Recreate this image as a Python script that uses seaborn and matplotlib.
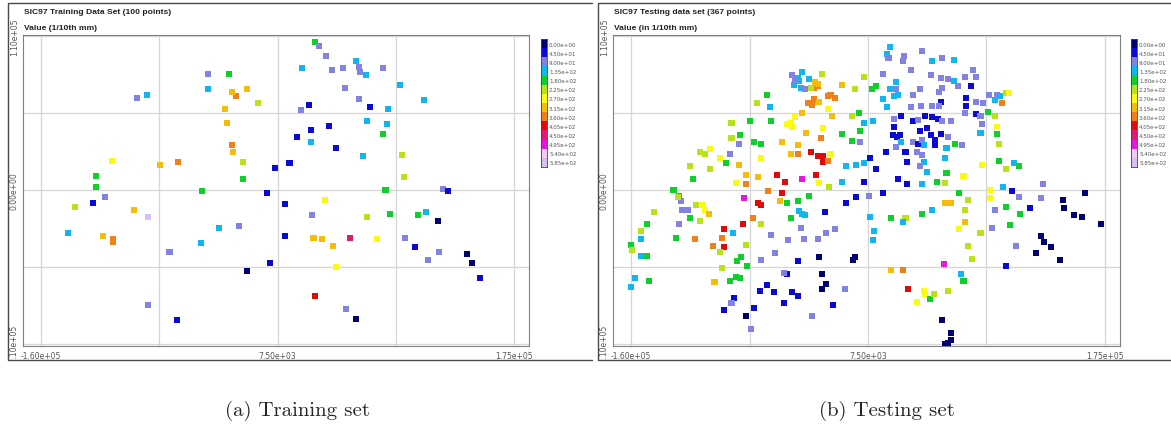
import numpy as np
import pandas as pd
import matplotlib
matplotlib.use("Agg")
import matplotlib.pyplot as plt
from matplotlib.colors import ListedColormap
from matplotlib.patches import Rectangle
from matplotlib.lines import Line2D
import seaborn as sns

# legend classes (value in 1/10th mm)
BREAKS = [0, 45, 90, 135, 180, 225, 270, 315, 360, 405, 450, 495, 540, 585]
COLORS = ["#00006e", "#0a0ad2", "#8282e2", "#12b6ee", "#10cf2a", "#b8e21c",
          "#fafa14", "#f6bc0a", "#f0801a", "#e00a0a", "#e01a70", "#e018e0",
          "#f8c8f0", "#d8bef6"]

# training set: easting / northing in km, class index of the legend
TRAIN_X = [34, 37, 42, 25, 46, 54, 63, 65, 66, 70, 82, 55, 94, 111, 65, 30, 73, 86, 24, 71,
           85, 44, 31, 82, 21, 31, 49, 68, 96, 97, 16, 6, 0, 13, 84, 41, 32, 87, 71, 107,
           113, 125, 128, 121, 13, 33, 39, 47, 59, 78, 98, 105, 122, 114, 142, 145, 151, 2, 49, -14,
           34, 56, 63, -64, -84, -69, -47, -34, -20, -46, -17, -17, -24, -25, -28, -30, -6, -14, -22, -25,
           -27, -42, -42, -85, -92, -76, -63, -110, -121, -121, -115, -123, -136, -94, -84, -141, -116, -109, -109]
TRAIN_Y = [106, 103, 96, 87, 86, 87, 92, 88, 84, 82, 87, 73, 75, 64, 65, 61, 59, 58, 57, 49,
           47, 46, 43, 40, 38, 34, 30, 24, 25, 9, 19, 16, -2, -10, 0, -7, -18, -17, -19, -18,
           -16, 1, -1, -22, -33, -34, -35, -40, -34, -35, -34, -41, -44, -50, -46, -52, -63, -52, -55, -58,
           -76, -85, -92, -93, -82, -44, -38, -27, -26, -1, 8, 20, 27, 32, 48, 58, 62, 72, 67, 70,
           83, 83, 72, 68, 66, 18, 20, 21, 10, 2, -5, -9, -12, -14, -19, -31, -33, -35, -37]
TRAIN_LEVEL = [4, 2, 2, 3, 2, 2, 3, 2, 2, 3, 2, 2, 3, 3, 2, 1, 1, 3, 2, 3,
               3, 1, 1, 4, 1, 3, 1, 3, 5, 5, 1, 1, 1, 1, 4, 6, 2, 4, 5, 4,
               3, 2, 1, 0, 1, 7, 7, 7, 10, 6, 2, 1, 2, 2, 0, 0, 1, 1, 6, 0,
               9, 2, 0, 1, 2, 2, 3, 3, 2, 4, 4, 5, 7, 8, 7, 7, 5, 7, 8, 7,
               4, 2, 3, 3, 2, 7, 8, 6, 4, 4, 2, 1, 5, 7, 13, 3, 7, 8, 8]

# testing set
TEST_X = [23, 21, 22, 33, 32, 46, 53, 60, 68, 38, 52, 59, 64, 68, 82, 84, 76, 71, 80, 18,
          27, 27, 23, 18, 26, 29, 21, 39, 44, 60, 58, 59, 58, 53, 45, 38, 77, 77, 84, 89,
          93, 97, 99, 101, 102, 105, 107, 92, 97, 84, 87, 76, 88, 87, 99, 99, 100, 66, 64, 69,
          74, 63, 31, 26, 26, 39, 43, 48, 53, 57, 60, 49, 44, 52, 55, 59, 25, 28, 30, 31,
          39, 43, 46, 47, 55, 27, 34, 42, 46, 47, 44, 49, 35, 20, 9, 13, -1, 5, 5, -11,
          29, 35, 46, 56, 62, 63, 62, 75, 88, 100, 111, 114, 105, 103, 94, 94, 109, 114, 97, 105,
          115, 122, 130, 131, 108, 95, 87, 112, 105, 126, 130, 132, 137, 143, 145, 146, 153, 159, 161, 172,
          78, 72, 66, 62, 76, 76, 72, 78, 81, 73, 75, 61, 64, 53, 46, 34, 32, 24, 9, 12,
          11, 24, 32, 36, 47, 48, 42, 51, 54, 60, 66, 66, 64, 62, -2, -3, -27, -25, -22, -25,
          -42, -50, -52, -46, -42, -52, -59, -64, -69, -73, -79, -87, -89, -94, -75, -32, -17, -9, -1, -8,
          8, 18, -23, -16, -22, -28, -40, -38, -49, -61, -58, -68, -41, -39, -37, -47, -42, -34, -50, -55,
          -63, -68, -70, -80, -74, -68, -81, -88, -94, -94, -96, -102, -97, -79, -82, -85, -78, -96, -86, -83,
          -90, -101, -115, -128, -126, -118, -111, -114, -109, -108, -105, -124, -120, -125, -126, -127, -130, -144, -149, -153,
          -153, -160, -159, -153, -149, -157, -160, -147, -118, -116, -111, -108, -104, -104, -97, -93, -90, -89, -83, -89,
          -84, -86, -84, -79, -79, -76, -73, -68, -68, -71, -64, -62, -61, -70, -57, -51, -53, -53, -47, -42,
          -42, -50, -47, -46, -44, -39, -36, -24, -26, -33, -28, -24, -24, -21, -19, -29, -39, -27, -20, -11,
          2, -4, 2, -8, -4, 1, 5, 11, -18, -21, -28, -32, -35, -31, -27, -21, -19, -16, -31, -28,
          -28, -33, -25, -30, -39, -42, -41, -45, -46, -44, -40, -34, -37, -11, -2, 5, 10, 13]
TEST_Y = [102, 97, 94, 96, 92, 99, 92, 94, 93, 86, 82, 80, 79, 78, 86, 81, 81, 74, 74, 83,
          77, 72, 72, 65, 67, 68, 59, 68, 72, 73, 70, 63, 60, 60, 60, 59, 66, 60, 63, 62,
          68, 64, 68, 67, 62, 69, 69, 56, 53, 54, 53, 55, 47, 41, 45, 40, 33, 49, 38, 33,
          32, 30, 53, 51, 45, 49, 50, 53, 52, 51, 49, 44, 42, 39, 36, 40, 39, 38, 39, 34,
          34, 33, 36, 32, 32, 31, 27, 27, 25, 20, 17, 13, 20, 27, 23, 15, 18, 19, 6, 6,
          8, 4, 4, 6, 5, 12, 23, 10, 18, 21, 19, 17, 15, 2, 0, -6, -1, -5, -14, -12,
          -17, -13, -6, 4, -25, -27, -31, -40, -54, -45, -33, -37, -41, -50, -7, -13, -18, -19, -2, -24,
          -7, -2, -9, -9, -14, -23, -28, -40, -49, -60, -65, -53, -72, -14, -17, -20, -23, -20, -19, -29,
          -36, -57, -57, -71, -72, -74, -80, -78, -74, -93, -102, -107, -109, -110, -48, -50, -48, -60, -67, -71,
          -51, -60, -59, -73, -76, -81, -73, -68, -72, -84, -90, -77, -81, -86, -99, -90, -82, -71, -5, -9,
          -4, -2, -16, -28, -31, -35, -27, -35, -36, -32, -45, -50, -15, -17, -18, -20, -8, -4, -9, -8,
          -1, -11, -9, -6, -20, -24, -24, -31, -28, -41, -34, -40, -44, -39, -48, -51, -54, -56, -62, -63,
          -65, -66, -35, -34, -24, -20, -22, -11, -11, -14, -17, -14, -14, -8, -4, -5, 0, -16, -24, -29,
          -35, -39, -43, -47, -47, -63, -69, -65, 17, 8, 27, 26, 29, 15, 23, 19, 26, 37, 39, 48,
          33, 5, 18, 11, 4, 49, 34, 33, 23, 62, 68, 59, 49, 9, 11, 6, -2, 34, 26, 26,
          32, 47, 48, 45, 52, 55, 41, 44, 37, 27, 24, 24, 20, 21, 26, 11, 8, 5, 2, 40,
          42, 35, 34, 17, 53, 55, 48, 49, 53, 58, 63, 61, 62, 65, 63, 67, 68, 66, 73, 74,
          76, 73, 83, 77, 84, 80, 78, 75, 82, 78, 73, 79, 72, 75, 72, 81, 72, 74]
TEST_LEVEL = [3, 3, 2, 2, 2, 2, 3, 2, 3, 2, 2, 2, 2, 3, 2, 2, 2, 2, 1, 2,
              3, 2, 3, 3, 3, 3, 3, 2, 2, 2, 2, 1, 2, 2, 2, 2, 1, 1, 2, 2,
              2, 3, 2, 3, 8, 5, 6, 4, 5, 1, 2, 2, 2, 3, 6, 4, 5, 2, 2, 4,
              2, 3, 1, 2, 1, 1, 2, 1, 1, 1, 2, 1, 1, 1, 1, 1, 1, 1, 1, 3,
              2, 1, 2, 3, 1, 2, 1, 2, 2, 3, 2, 3, 1, 1, 1, 1, 3, 3, 1, 3,
              1, 1, 3, 4, 5, 4, 3, 6, 6, 4, 3, 4, 5, 3, 6, 6, 1, 2, 2, 4,
              4, 1, 2, 2, 4, 2, 5, 2, 1, 0, 0, 0, 0, 0, 0, 0, 0, 0, 0, 0,
              5, 4, 7, 7, 5, 7, 6, 5, 5, 3, 4, 11, 5, 3, 4, 5, 3, 4, 3, 3,
              3, 7, 8, 9, 6, 6, 6, 4, 5, 0, 0, 0, 0, 0, 0, 0, 0, 0, 0, 0,
              1, 1, 2, 1, 1, 1, 1, 1, 1, 1, 0, 1, 2, 1, 2, 2, 1, 2, 1, 1,
              2, 1, 1, 2, 2, 2, 2, 2, 2, 2, 2, 2, 3, 3, 3, 4, 4, 4, 4, 7,
              8, 9, 9, 11, 8, 5, 9, 3, 9, 9, 8, 8, 5, 5, 4, 4, 4, 5, 4, 4,
              4, 7, 8, 4, 2, 4, 5, 5, 6, 6, 7, 2, 2, 2, 4, 5, 4, 5, 4, 5,
              3, 4, 5, 3, 4, 3, 3, 4, 5, 4, 5, 5, 6, 5, 6, 4, 2, 5, 4, 5,
              2, 6, 7, 7, 8, 4, 4, 4, 6, 5, 4, 3, 4, 7, 9, 9, 9, 7, 7, 8,
              7, 6, 6, 6, 6, 7, 7, 6, 8, 9, 9, 9, 9, 8, 6, 9, 11, 6, 5, 4,
              4, 4, 2, 3, 5, 4, 3, 3, 7, 6, 7, 8, 8, 8, 7, 8, 8, 8, 8, 8,
              7, 5, 5, 7, 3, 3, 3, 3, 2, 2, 3, 3, 2, 7, 5, 5, 4, 4]

TITLES = ["SIC97 Training Data Set (100 points)", "SIC97 Testing data set (367 points)"]
SUBTITLES = ["Value (1/10th mm)", "Value (in 1/10th mm)"]
CAPTIONS = ["(a) Training set", "(b) Testing set"]

X_TICKS = [-160000, 7500, 175000]
Y_TICKS = [-110000, 0, 110000]

W, H = 1171, 427
sns.set_style("white")
plt.rcParams["font.family"] = ["Liberation Sans", "DejaVu Sans"]

fig = plt.figure(figsize=(W / 100, H / 100), dpi=100)


def frac(x0, y0, x1, y1):
    return [x0 / W, 1 - y1 / H, (x1 - x0) / W, (y1 - y0) / H]


def fline(xs, ys):
    fig.add_artist(Line2D([x / W for x in xs], [1 - y / H for y in ys],
                          transform=fig.transFigure, color="#4a4a4a", lw=1.0))


palette = dict(enumerate(COLORS))
datasets = [(TRAIN_X, TRAIN_Y, TRAIN_LEVEL), (TEST_X, TEST_Y, TEST_LEVEL)]

for i, (xs, ys, lv) in enumerate(datasets):
    dx = 0 if i == 0 else 590
    df = pd.DataFrame({"x": np.array(xs) * 1000.0, "y": np.array(ys) * 1000.0, "level": lv})

    # screenshot frame: left, top and bottom edges (right side is cut off)
    left_edge = 8 if i == 0 else 598
    right_edge = 592 if i == 0 else W + 2
    fline([right_edge, left_edge, left_edge, right_edge], [4, 4, 361, 361])
    clip = Rectangle((left_edge / W, 1 - 361 / H), (right_edge - left_edge) / W, 357 / H,
                     transform=fig.transFigure, visible=False)
    fig.add_artist(clip)

    ax = fig.add_axes(frac(23 + dx, 36, 529 + dx + (1 if i else 0), 347))
    sns.scatterplot(data=df, x="x", y="y", hue="level", palette=palette, marker="s",
                    s=19, linewidth=0, legend=False, ax=ax, zorder=3)

    sx = 335000 / 473
    sy = 220000 / 308
    ax.set_xlim(-160000 - 18 * sx, 175000 + 15 * sx)
    ax.set_ylim(-110000 - 2 * sy, 110000 + 1 * sy)
    ax.set_xticks(X_TICKS)
    ax.set_xticklabels([f"{v:.2e}" for v in X_TICKS])
    ax.set_yticks(Y_TICKS)
    ax.set_yticklabels([f"{v:.2e}" for v in Y_TICKS], rotation=90, va="center")
    ax.set_xticks([-76250, 91250], minor=True)
    ax.set_yticks([-55000, 55000], minor=True)
    ax.grid(True, which="both", color="#d6d6d6", lw=0.9)
    ax.tick_params(which="major", length=2, width=0.8, pad=1.5, labelsize=5.5,
                   labelcolor="#555555", color="#555555")
    ax.tick_params(axis="y", pad=1)
    ax.tick_params(which="minor", length=0)
    for lab in ax.get_xticklabels() + ax.get_yticklabels():
        lab.set_family(["DejaVu Sans"])
        lab.set_clip_path(clip)
    for sp in ax.spines.values():
        sp.set_color("#808080")
        sp.set_linewidth(0.8)
    ax.set_xlabel("")
    ax.set_ylabel("")

    fig.text((24 + dx) / W, 1 - 12 / H, TITLES[i], fontsize=6.1, fontweight="bold",
             color="#222222", va="center", ha="left")
    fig.text((24 + dx) / W, 1 - 28 / H, SUBTITLES[i], fontsize=6.1, fontweight="bold",
             color="#222222", va="center", ha="left")

    # class legend
    lx = 541 + dx
    lax = fig.add_axes(frac(lx, 40, lx + 6, 168))
    sns.heatmap(np.arange(len(COLORS)).reshape(-1, 1), cmap=ListedColormap(COLORS),
                cbar=False, ax=lax, xticklabels=False, linewidths=0)
    lax.yaxis.tick_right()
    lax.set_yticks(np.arange(len(BREAKS)) + 0.5)
    lax.set_yticklabels([f"{b:.2e}" for b in BREAKS], rotation=0, fontsize=4,
                        color="#555555", family=["DejaVu Sans"])
    lax.tick_params(length=0, pad=1.5)
    for sp in lax.spines.values():
        sp.set_visible(True)
        sp.set_color("#404060")
        sp.set_linewidth(0.6)

    fig.text((297 + dx) / W, 1 - 411 / H, CAPTIONS[i], fontsize=15,
             family=["cmr10", "DejaVu Serif"], ha="center", va="center")

fig.savefig("out.png", dpi=100)
